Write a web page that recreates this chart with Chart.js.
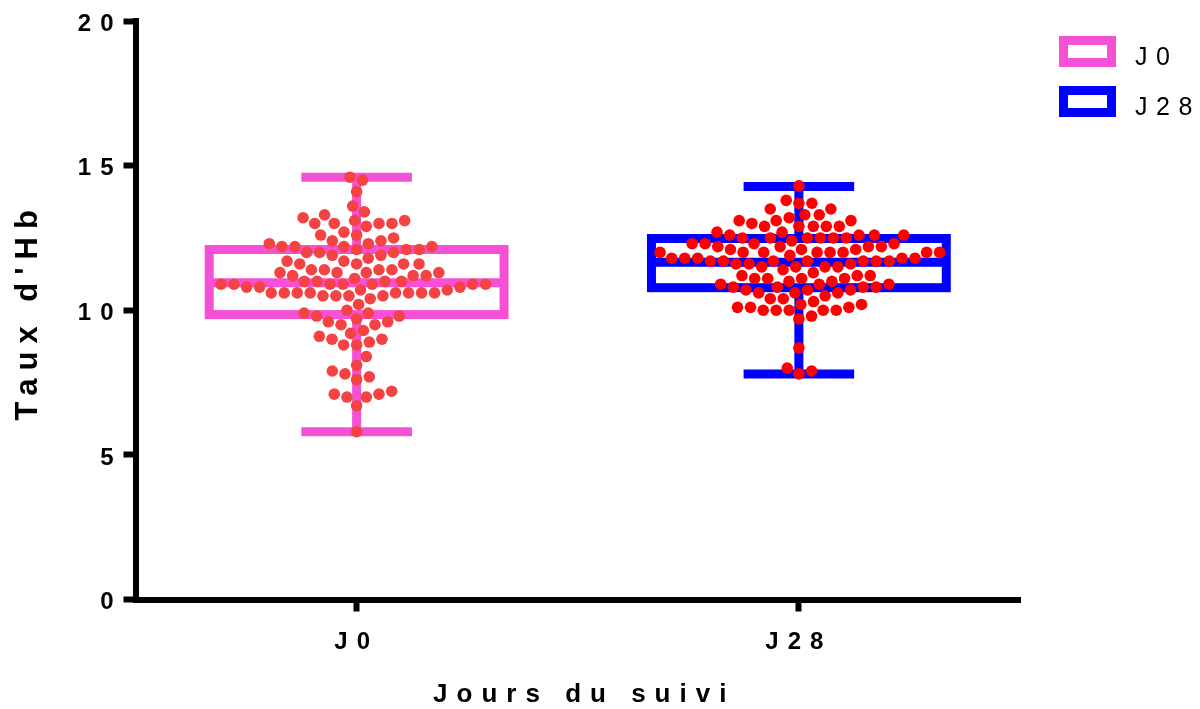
<!DOCTYPE html>
<html>
<head>
<meta charset="utf-8">
<title>Taux d'Hb - J0 / J28</title>
<script src="https://cdn.jsdelivr.net/npm/chart.js@4.4.1/dist/chart.umd.min.js"></script>
<style>
  html, body { margin: 0; padding: 0; background: #fff; }
  #wrap { width: 1200px; height: 709px; }
</style>
</head>
<body>
<div id="wrap"><canvas id="hb-chart" width="1200" height="709"></canvas></div>
<script>
// =========================
// DATA
// =========================

const CATEGORIES = ["J0", "J28"];
const Y_TICKS = [0, 5, 10, 15, 20];
const X_TITLE = "Jours du suivi";
const Y_TITLE = "Taux d'Hb";

// individual Hb values
const J0_HB = [
  14.6, 14.5, 14.1, 13.6, 13.4, 13.3, 13.2, 13.1, 13.1,
  13.0, 13.0, 13.0, 13.0, 12.9, 12.7, 12.6, 12.6, 12.5,
  12.4, 12.4, 12.3, 12.3, 12.2, 12.2, 12.2, 12.2, 12.1, 12.1, 12.1,
  12.0, 12.0, 12.0, 11.9, 11.9, 11.8, 11.7, 11.7,
  11.6, 11.6, 11.6, 11.6, 11.4, 11.4, 11.4, 11.4,
  11.3, 11.3, 11.3, 11.3, 11.2, 11.2, 11.2, 11.1,
  11.0, 11.0, 11.0, 11.0, 10.9, 10.9, 10.9, 10.9, 10.9, 10.9, 10.9,
  10.8, 10.8, 10.8, 10.7, 10.7,
  10.6, 10.6, 10.6, 10.6, 10.6, 10.6, 10.6, 10.6,
  10.5, 10.5, 10.5, 10.5, 10.4, 10.2, 10.0,
  9.9, 9.9, 9.8, 9.8, 9.7, 9.6, 9.6, 9.5, 9.5, 9.3, 9.2, 9.1, 9.0, 9.0,
  8.9, 8.8, 8.8, 8.4, 8.1, 7.9, 7.8, 7.7, 7.6, 7.2, 7.1, 7.1, 7.0, 7.0, 6.7, 5.8
];

const J28_HB = [
  14.3, 13.8, 13.7, 13.7, 13.5, 13.5, 13.3, 13.3, 13.2,
  13.1, 13.1, 13.1, 13.0, 12.9, 12.9, 12.9, 12.9, 12.9,
  12.7, 12.7, 12.6, 12.6, 12.6, 12.6,
  12.5, 12.5, 12.5, 12.5, 12.5, 12.5, 12.4,
  12.3, 12.3, 12.3, 12.3, 12.2, 12.2, 12.2, 12.2, 12.1, 12.1, 12.1,
  12.0, 12.0, 12.0, 12.0, 12.0, 12.0, 12.0, 12.0, 11.9,
  11.8, 11.8, 11.8, 11.8, 11.8, 11.7, 11.7, 11.7, 11.7, 11.7, 11.7, 11.7,
  11.6, 11.6, 11.6, 11.5, 11.5, 11.5, 11.5, 11.4, 11.3,
  11.2, 11.2, 11.2, 11.1, 11.1, 11.1, 11.1, 11.0, 11.0,
  10.9, 10.9, 10.9, 10.8, 10.8, 10.8, 10.8, 10.7, 10.7, 10.7,
  10.6, 10.6, 10.6, 10.5, 10.4, 10.4, 10.3, 10.2, 10.2,
  10.1, 10.1, 10.1, 10.0, 10.0, 10.0, 10.0, 10.0,
  9.8, 9.7, 8.7, 8.0, 7.9, 7.8
];

// box & whiskers (min-max), one entry per category
const BOX_MIN = [5.8, 7.8];
const BOX_Q1 = [9.85, 10.78];
const BOX_MEDIAN = [10.95, 11.66];
const BOX_Q3 = [12.1, 12.48];
const BOX_MAX = [14.6, 14.28];

// =========================
// STYLE
// =========================

const BOX_COLORS = ["#F551D7", "#0000FF"];
const DOT_COLORS = ["#F54343", "#FF0000"];
const FONT = '"Liberation Sans", Arial, sans-serif';
const BOX_HALF = 1 / 3;    // half box width, in category units
const CAP_HALF = 0.125;    // half whisker cap width
const LINE_W = 9;
const DOT_R = 5.8;
const DOT_GAP = 13;        // min distance between dot centres (px)

// =========================
// HELPERS
// =========================

function drawSpaced(ctx, text, x, y, spacing) {
  // centred text with extra letter spacing
  ctx.letterSpacing = "0px";
  const w = ctx.measureText(text).width + spacing * (text.length - 1);
  ctx.letterSpacing = spacing + "px";
  ctx.textAlign = "left";
  ctx.fillText(text, x - w / 2, y);
}

// greedy beeswarm: keeps each y, pushes x sideways until no overlap
function swarmOffsets(values, yScale, gap) {
  const placed = [];
  const out = new Array(values.length);
  const order = values.map((v, i) => i).sort((a, b) => values[a] - values[b]);

  order.forEach((i) => {
    const y = yScale.getPixelForValue(values[i]);
    const cands = [0];
    placed.forEach((p) => {
      const dy = Math.abs(p.y - y);
      if (dy < gap) {
        const dx = Math.sqrt(gap * gap - dy * dy);
        cands.push(p.x + dx, p.x - dx);
      }
    });
    cands.sort((a, b) => Math.abs(a) - Math.abs(b));
    const x = cands.find((c) =>
      placed.every((p) => (p.x - c) ** 2 + (p.y - y) ** 2 >= gap * gap - 0.01)
    );
    placed.push({ x, y });
    out[i] = x;
  });
  return out;
}

// =========================
// PLUGINS
// =========================

const spacingPlugin = {
  id: "spacing",
  beforeDraw(chart) {
    chart.ctx.letterSpacing = "9px";
  },
};

const boxPlotPlugin = {
  id: "boxPlot",
  beforeDatasetsDraw(chart) {
    const { ctx } = chart;
    const xs = chart.scales.x;
    const ys = chart.scales.y;
    ctx.save();
    ctx.lineWidth = LINE_W;
    ctx.lineCap = "butt";
    ctx.lineJoin = "miter";

    CATEGORIES.forEach((cat, i) => {
      const cx = xs.getPixelForValue(i + 0.5);
      const half = xs.getPixelForValue(i + 0.5 + BOX_HALF) - cx;
      const cap = xs.getPixelForValue(i + 0.5 + CAP_HALF) - cx;
      const yMin = ys.getPixelForValue(BOX_MIN[i]);
      const yQ1 = ys.getPixelForValue(BOX_Q1[i]);
      const yMed = ys.getPixelForValue(BOX_MEDIAN[i]);
      const yQ3 = ys.getPixelForValue(BOX_Q3[i]);
      const yMax = ys.getPixelForValue(BOX_MAX[i]);

      ctx.strokeStyle = BOX_COLORS[i];
      ctx.strokeRect(cx - half, yQ3, half * 2, yQ1 - yQ3);

      ctx.beginPath();
      ctx.moveTo(cx - half, yMed);
      ctx.lineTo(cx + half, yMed);
      ctx.moveTo(cx, yQ3);
      ctx.lineTo(cx, yMax);
      ctx.moveTo(cx - cap, yMax);
      ctx.lineTo(cx + cap, yMax);
      ctx.moveTo(cx, yQ1);
      ctx.lineTo(cx, yMin);
      ctx.moveTo(cx - cap, yMin);
      ctx.lineTo(cx + cap, yMin);
      ctx.stroke();
    });
    ctx.restore();
  },
};

const titlesPlugin = {
  id: "titles",
  afterDraw(chart) {
    const { ctx, chartArea } = chart;
    ctx.save();
    ctx.fillStyle = "#000";
    ctx.textBaseline = "alphabetic";

    // x title
    ctx.font = "bold 26px " + FONT;
    drawSpaced(ctx, X_TITLE, (chartArea.left + chartArea.right) / 2 + 2, 702, 9);

    // y title, rotated
    ctx.save();
    ctx.translate(37, (chartArea.top + chartArea.bottom) / 2 + 5);
    ctx.rotate(-Math.PI / 2);
    ctx.font = "bold 31px " + FONT;
    drawSpaced(ctx, Y_TITLE, 0, 0, 8);
    ctx.restore();

    // legend
    ctx.font = "25px " + FONT;
    ctx.lineWidth = LINE_W;
    CATEGORIES.forEach((cat, i) => {
      const top = 40.5 + i * 50;
      ctx.strokeStyle = BOX_COLORS[i];
      ctx.strokeRect(1063.5, top, 48, 22);
      ctx.letterSpacing = "8.5px";
      ctx.textAlign = "left";
      ctx.fillText(cat, 1135, top + 24.5 - i * 0.5);
    });
    ctx.restore();
  },
};

// =========================
// CHART
// =========================

const canvas = document.getElementById("hb-chart");

const chart = new Chart(canvas.getContext("2d"), {
  type: "scatter",
  data: {
    datasets: [J0_HB, J28_HB].map((vals, i) => ({
      label: CATEGORIES[i],
      data: vals.map((v) => ({ x: i + 0.5, y: v })),
      backgroundColor: DOT_COLORS[i],
      borderWidth: 0,
      pointRadius: DOT_R,
      pointHoverRadius: DOT_R,
    })),
  },
  options: {
    responsive: false,
    animation: false,
    devicePixelRatio: 1,
    layout: { padding: { left: 0, top: 21, right: 180, bottom: 0 } },
    plugins: {
      legend: { display: false },
      tooltip: { enabled: false },
    },
    scales: {
      x: {
        type: "linear",
        min: 0,
        max: 2,
        afterBuildTicks: (s) => {
          s.ticks = CATEGORIES.map((c, i) => ({ value: i + 0.5 }));
        },
        afterFit: (s) => {
          s.height = 109.5;
        },
        grid: {
          drawOnChartArea: false,
          tickLength: 12,
          tickWidth: 6,
          color: "#000",
        },
        border: { display: true, width: 6, color: "#000" },
        ticks: {
          autoSkip: false,
          maxRotation: 0,
          padding: 16,
          color: "#000",
          font: { family: FONT, size: 24, weight: "bold" },
          callback: (v, idx) => CATEGORIES[idx],
        },
      },
      y: {
        type: "linear",
        min: 0,
        max: 20,
        afterBuildTicks: (s) => {
          s.ticks = Y_TICKS.map((v) => ({ value: v }));
        },
        afterFit: (s) => {
          s.width = 135.5;
        },
        grid: {
          drawOnChartArea: false,
          tickLength: 12,
          tickWidth: 6,
          color: "#000",
        },
        border: { display: true, width: 6, color: "#000" },
        ticks: {
          padding: 1,
          labelOffset: 3,
          color: "#000",
          font: { family: FONT, size: 24, weight: "bold" },
        },
      },
    },
  },
  plugins: [spacingPlugin, boxPlotPlugin, titlesPlugin],
});

// lay the dots out as a swarm now that the scales are known
function applySwarm() {
  const xs = chart.scales.x;
  const ys = chart.scales.y;
  const pxPerUnit = xs.getPixelForValue(1) - xs.getPixelForValue(0);
  [J0_HB, J28_HB].forEach((vals, i) => {
    const offs = swarmOffsets(vals, ys, DOT_GAP);
    chart.data.datasets[i].data = vals.map((v, k) => ({
      x: i + 0.5 + offs[k] / pxPerUnit,
      y: v,
    }));
  });
  chart.update("none");
}

applySwarm();
</script>
</body>
</html>
